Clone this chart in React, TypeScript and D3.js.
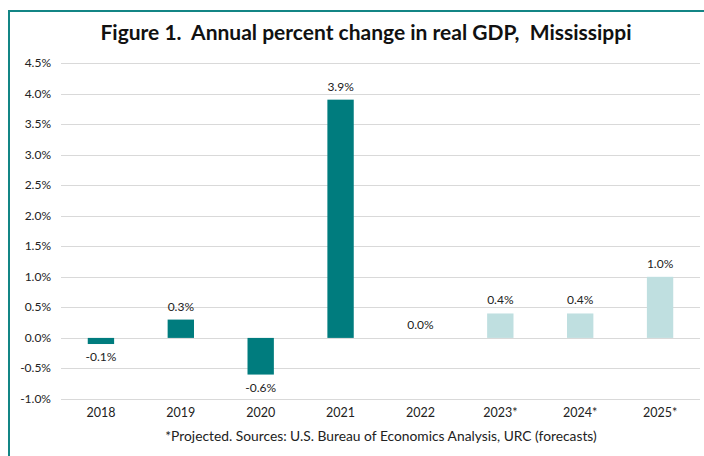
import React from "react";
import * as d3 from "d3";

const categories = ["2018", "2019", "2020", "2021", "2022", "2023*", "2024*", "2025*"];
const values = [-0.1, 0.3, -0.6, 3.9, 0.0, 0.4, 0.4, 1.0];
const projected = [false, false, false, false, false, true, true, true];
const yTicks = [-1.0, -0.5, 0, 0.5, 1.0, 1.5, 2.0, 2.5, 3.0, 3.5, 4.0, 4.5];
const title = "Figure 1.  Annual percent change in real GDP,  Mississippi";
const footnote = "*Projected. Sources: U.S. Bureau of Economics Analysis, URC (forecasts)";

const W = 704;
const H = 456;
const FONT = "Lato, 'Open Sans', sans-serif";

export default function App() {
  const x = d3.scaleBand<string>().domain(categories).range([61, 700]).paddingInner(0.67).paddingOuter(0.335);
  const y = d3.scaleLinear().domain([-1.0, 4.5]).range([399, 63]);
  const fmt = (v: number) => v.toFixed(1) + "%";
  return (
    <div style={{ position: "fixed", left: 0, top: 0 }}>
      <svg width={W} height={H} style={{ display: "block", background: "#fff" }}>
        <line x1={9} x2={W} y1={11} y2={11} stroke="#138585" strokeWidth={2} />
        <line x1={9} x2={9} y1={10} y2={H} stroke="#138585" strokeWidth={2} />
        <text x={366} y={40} textAnchor="middle" fontFamily={FONT} fontWeight={700} fontSize={21} fill="#111" style={{ whiteSpace: "pre" }}>
          {title}
        </text>
        {yTicks.map((t) => (
          <g key={t}>
            <line x1={61} x2={700} y1={Math.round(y(t)) + 0.5} y2={Math.round(y(t)) + 0.5} stroke="#d9d9d9" strokeWidth={1} />
            <text x={51} y={y(t) + 4} textAnchor="end" fontFamily={FONT} fontSize={12} fill="#222">
              {fmt(t)}
            </text>
          </g>
        ))}
        {categories.map((c, i) => {
          const v = values[i];
          const y0 = y(0);
          const yv = y(v);
          const top = Math.min(y0, yv);
          const h = Math.abs(y0 - yv);
          const cx = (x(c) as number) + x.bandwidth() / 2;
          const labelY = v < 0 ? yv + 17 : yv - 9;
          return (
            <g key={c}>
              {h > 0 && (
                <rect x={x(c)} y={top} width={x.bandwidth()} height={h} fill={projected[i] ? "#bfdfe0" : "#007c7e"} />
              )}
              <text x={cx} y={labelY} textAnchor="middle" fontFamily={FONT} fontSize={12} fill="#222">
                {fmt(v)}
              </text>
              <text x={cx} y={417} textAnchor="middle" fontFamily={FONT} fontSize={12.5} fill="#222">
                {c}
              </text>
            </g>
          );
        })}
        <text x={381} y={441} textAnchor="middle" fontFamily={FONT} fontSize={13.8} fill="#222">
          {footnote}
        </text>
      </svg>
    </div>
  );
}
